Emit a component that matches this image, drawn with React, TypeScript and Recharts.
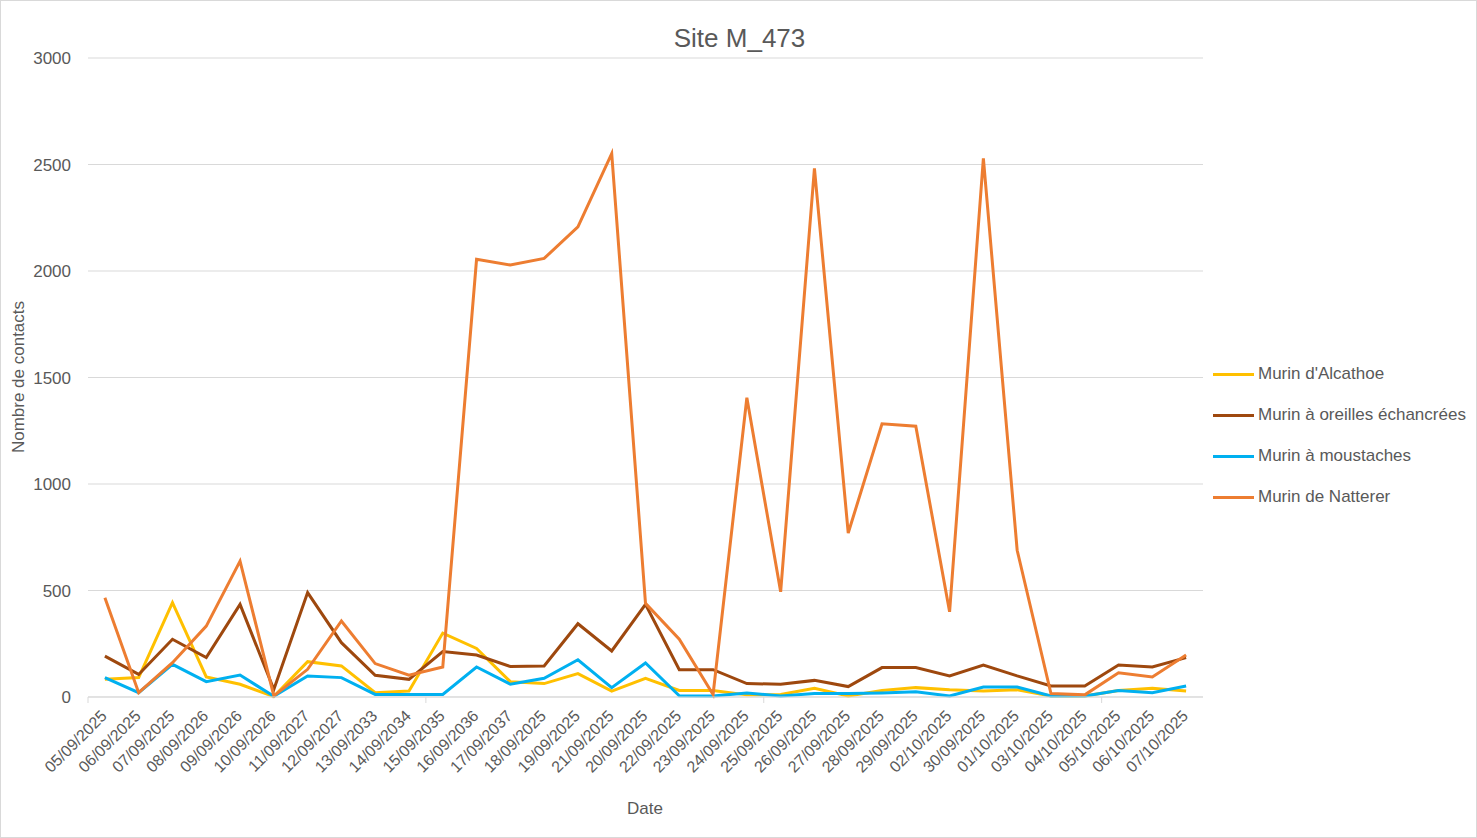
import React from 'react';
import { LineChart, Line, XAxis, YAxis, CartesianGrid } from 'recharts';

const dates = [
  '05/09/2025', '06/09/2025', '07/09/2025', '08/09/2026', '09/09/2026', '10/09/2026',
  '11/09/2027', '12/09/2027', '13/09/2033', '14/09/2034', '15/09/2035', '16/09/2036',
  '17/09/2037', '18/09/2025', '19/09/2025', '21/09/2025', '20/09/2025', '22/09/2025',
  '23/09/2025', '24/09/2025', '25/09/2025', '26/09/2025', '27/09/2025', '28/09/2025',
  '29/09/2025', '02/10/2025', '30/09/2025', '01/10/2025', '03/10/2025', '04/10/2025',
  '05/10/2025', '06/10/2025', '07/10/2025',
];

const alcathoe = [83, 91, 443, 94, 60, 2, 166, 146, 20, 28, 300, 228, 72, 63, 110, 28, 88, 31, 30, 10, 12, 41, 5, 31, 44, 34, 28, 34, 5, 5, 31, 41, 28];
const echancrees = [192, 106, 271, 185, 435, 35, 490, 255, 102, 83, 213, 197, 143, 146, 344, 216, 435, 128, 128, 63, 60, 78, 49, 138, 138, 99, 150, 99, 52, 52, 150, 141, 185];
const moustaches = [91, 20, 153, 72, 103, 3, 99, 91, 12, 12, 12, 141, 60, 88, 175, 44, 160, 6, 5, 19, 5, 16, 16, 19, 25, 5, 47, 47, 5, 5, 31, 20, 52];
const natterer = [466, 20, 161, 333, 638, 5, 130, 357, 157, 102, 141, 2055, 2028, 2059, 2207, 2551, 440, 271, 12, 1405, 494, 2482, 770, 1283, 1271, 400, 2529, 689, 16, 10, 114, 94, 197];

const yTicks = [0, 500, 1000, 1500, 2000, 2500, 3000];

const seriesNames = ["Murin d'Alcathoe", 'Murin à oreilles échancrées', 'Murin à moustaches', 'Murin de Natterer'];
const seriesKeys = ['alcathoe', 'echancrees', 'moustaches', 'natterer'];
const seriesColors = ['#FFC000', '#9E480E', '#00B0F0', '#ED7D31'];

const data = dates.map((d, i) => ({
  date: d,
  alcathoe: alcathoe[i],
  echancrees: echancrees[i],
  moustaches: moustaches[i],
  natterer: natterer[i],
}));

const W = 1477;
const H = 838;
const PLOT_LEFT = 87;
const PLOT_RIGHT = 1202;
const PLOT_TOP = 57;
const PLOT_BOTTOM = 696;
const BAND = (PLOT_RIGHT - PLOT_LEFT) / dates.length;
const FONT = "'Liberation Sans', Arial, sans-serif";
const TEXT = '#595959';

const XTick = (props: any) => {
  const { x, y, payload, index } = props;
  return (
    <g transform={`translate(${x},${y})`}>
      {index % 10 === 0 && (
        <line x1={-BAND / 2} y1={0} x2={-BAND / 2} y2={6} stroke="#d9d9d9" strokeWidth={1} />
      )}
      <text
        x={0}
        y={0}
        transform="translate(3,20) rotate(-45)"
        textAnchor="end"
        fill={TEXT}
        fontSize={16}
        fontFamily={FONT}
      >
        {payload.value}
      </text>
    </g>
  );
};

export default function App() {
  return (
    <div
      style={{
        position: 'absolute',
        left: 0,
        top: 0,
        width: W,
        height: H,
        boxSizing: 'border-box',
        border: '1px solid #d9d9d9',
        background: '#fff',
        fontFamily: FONT,
      }}
    >
      <div
        style={{
          position: 'absolute',
          left: 0,
          width: W,
          top: 23,
          textAlign: 'center',
          fontSize: 26,
          lineHeight: '28px',
          color: TEXT,
        }}
      >
        Site M_473
      </div>
      <div
        style={{
          position: 'absolute',
          left: 18 - 150,
          top: 376 - 11,
          width: 300,
          height: 22,
          lineHeight: '22px',
          textAlign: 'center',
          fontSize: 17,
          color: TEXT,
          transform: 'rotate(-90deg)',
        }}
      >
        Nombre de contacts
      </div>
      <div
        style={{
          position: 'absolute',
          left: 644 - 100,
          top: 808 - 11,
          width: 200,
          lineHeight: '22px',
          textAlign: 'center',
          fontSize: 17,
          color: TEXT,
        }}
      >
        Date
      </div>
      <div style={{ position: 'absolute', left: 0, top: 0 }}>
        <LineChart
          width={W}
          height={H}
          data={data}
          margin={{ top: PLOT_TOP, right: W - PLOT_RIGHT, bottom: H - PLOT_BOTTOM - 100, left: PLOT_LEFT - 60 }}
        >
          <CartesianGrid vertical={false} stroke="#d9d9d9" strokeWidth={1} />
          <XAxis
            dataKey="date"
            interval={0}
            height={100}
            padding={{ left: BAND / 2, right: BAND / 2 }}
            tickLine={false}
            tickSize={0}
            tickMargin={0}
            axisLine={{ stroke: '#d9d9d9', strokeWidth: 1 }}
            tick={<XTick />}
          />
          <YAxis
            width={60}
            domain={[0, 3000]}
            ticks={yTicks}
            axisLine={false}
            tickLine={false}
            tickSize={0}
            tickMargin={17}
            tick={{ fill: TEXT, fontSize: 17, fontFamily: FONT }}
          />
          {seriesKeys.map((k, i) => (
            <Line
              key={k}
              type="linear"
              dataKey={k}
              name={seriesNames[i]}
              stroke={seriesColors[i]}
              strokeWidth={3}
              dot={false}
              activeDot={false}
              isAnimationActive={false}
            />
          ))}
        </LineChart>
      </div>
      {seriesNames.map((n, i) => (
        <div
          key={n}
          style={{
            position: 'absolute',
            left: 1212,
            top: 373 + i * 41 - 11,
            height: 22,
            display: 'flex',
            alignItems: 'center',
            whiteSpace: 'nowrap',
          }}
        >
          <div style={{ width: 41, height: 3, background: seriesColors[i], marginRight: 4 }} />
          <span style={{ fontSize: 17, color: TEXT, lineHeight: '22px' }}>{n}</span>
        </div>
      ))}
    </div>
  );
}
